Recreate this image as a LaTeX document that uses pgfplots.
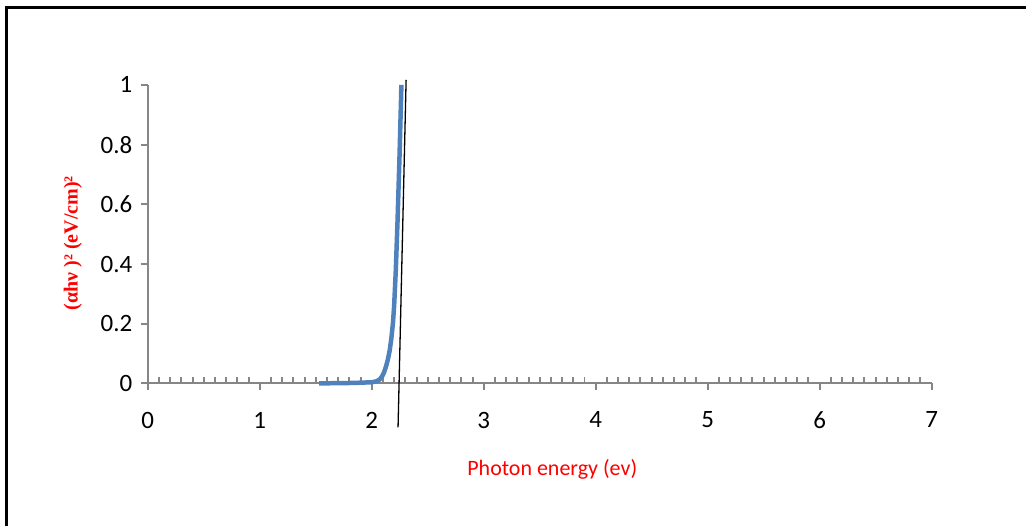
\documentclass[border=0pt]{standalone}
\usepackage{pgfplots}
\pgfplotsset{compat=1.18}
\usepackage{fontspec}
\setmainfont{Carlito}
\newfontfamily\lserif{Liberation Serif}
\definecolor{axgray}{RGB}{134,134,134}
\definecolor{xlblue}{RGB}{79,129,189}
\definecolor{lblred}{RGB}{255,0,0}
\begin{document}
\begin{tikzpicture}
\begin{axis}[
  at={(0pt,0pt)}, anchor=south west,
  scale only axis, width=785pt, height=299pt,
  xmin=0, xmax=7, ymin=0, ymax=1,
  axis lines*=left,
  axis line style={axgray, line width=2pt},
  clip=false,
  xtick={0,1,2,3,4,5,6,7},
  minor x tick num=9,
  ytick={0,0.2,0.4,0.6,0.8,1},
  tick align=outside,
  major tick length=7pt,
  minor tick length=6pt,
  tick style={axgray, line width=2pt},
  minor tick style={axgray, line width=2pt, yshift=6pt},
  /pgf/number format/assume math mode=true,
  ticklabel style={font=\fontsize{25}{30}\selectfont},
  yticklabel style={/pgf/number format/fixed, /pgf/number format/precision=1, xshift=-5pt},
  xticklabel style={yshift=-18pt},
  xlabel={Photon energy (ev)},
  ylabel={\lserif\bfseries (αhν )² (eV/cm)²},
  every axis x label/.style={at={(axis description cs:0.516,-0.288)}, anchor=center, font=\fontsize{22}{26}\selectfont, text=lblred},
  every axis y label/.style={at={(axis description cs:-0.0955,0.47)}, anchor=center, rotate=90, font=\fontsize{20}{24}\selectfont, text=lblred},
]
\addplot[xlblue, line width=4.5pt, line join=round] coordinates {
  (1.53,0) (1.6,0.0005) (1.7,0.001) (1.8,0.0015) (1.9,0.0025) (2.0,0.004)
  (2.04,0.007) (2.07,0.013) (2.09,0.022) (2.11,0.037) (2.13,0.06) (2.145,0.082)
  (2.16,0.11) (2.175,0.15) (2.19,0.205) (2.2,0.26) (2.215,0.38) (2.23,0.54)
  (2.248,0.76) (2.265,1.0)
};
\addplot[black, line width=1.3pt] coordinates {(2.235,-0.147) (2.307,1.017)};
\end{axis}
\pgfresetboundingbox
\draw[line width=3pt] (-141pt,-143pt) -- (-141pt,376pt) -- (879pt,376pt);
\path[use as bounding box] (-148pt,-143pt) rectangle (879pt,384pt);
\end{tikzpicture}
\end{document}
